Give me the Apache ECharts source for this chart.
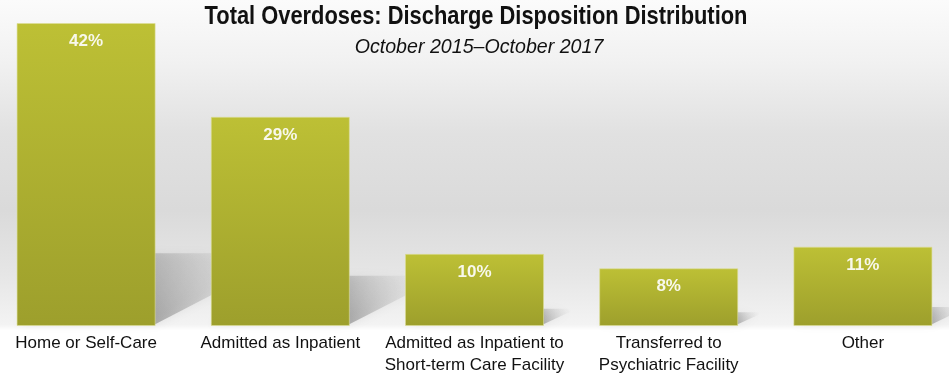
<!DOCTYPE html>
<html>
<head>
<meta charset="utf-8">
<script src="https://cdn.jsdelivr.net/npm/echarts@6/dist/echarts.min.js"></script>
<style>
  html, body { margin: 0; padding: 0; background: #ffffff; }
  #chart {
    width: 949px; height: 382px;
    background: linear-gradient(to bottom, #fbfbfb 0%, #f2f2f2 15%, #e1e1e1 35%, #dadada 55%, #e6e6e6 72%, #f3f3f3 85%, #ffffff 86.5%, #ffffff 100%);
  }
</style>
</head>
<body>
<div id="chart"></div>
<script>
// ---- data ----
const titleText = 'Total Overdoses: Discharge Disposition Distribution';
const subtitleText = 'October 2015\u2013October 2017';
const categories = [
  'Home or Self-Care',
  'Admitted as Inpatient',
  'Admitted as Inpatient to\nShort-term Care Facility',
  'Transferred to\nPsychiatric Facility',
  'Other'
];
const values = [42, 29, 10, 8, 11];
const labelTexts = ['42%', '29%', '10%', '8%', '11%'];

// ---- chart ----
const chart = echarts.init(document.getElementById('chart'), null, { renderer: 'canvas' });
const BAR_FRAC = 0.716;

const option = {
  backgroundColor: 'transparent',
  animation: false,
  graphic: [
    {
      type: 'text', x: 476, y: 5, scaleX: 0.875, silent: true,
      style: {
        text: titleText, x: 0, y: 0, textAlign: 'center', textVerticalAlign: 'top',
        fontFamily: 'Liberation Sans', fontWeight: 'bold', fontSize: 25, fill: '#111111'
      }
    },
    {
      type: 'text', x: 479, y: 37, scaleX: 0.934, silent: true,
      style: {
        text: subtitleText, x: 0, y: 0, textAlign: 'center', textVerticalAlign: 'top',
        fontFamily: 'Liberation Sans', fontStyle: 'italic', fontSize: 21, fill: '#111111'
      }
    }
  ],
  grid: { left: -11, width: 971, top: 23, bottom: 56, containLabel: false, outerBoundsMode: 'none' },
  xAxis: {
    type: 'category',
    data: categories,
    axisLine: { show: false },
    axisTick: { show: false },
    splitLine: { show: false },
    axisLabel: {
      interval: 0, margin: 6, fontSize: 17, lineHeight: 22,
      fontFamily: 'Liberation Sans', color: '#111111'
    }
  },
  yAxis: { type: 'value', min: 0, max: 42, show: false, splitLine: { show: false } },
  series: [
    {
      type: 'custom',
      z: 1,
      silent: true,
      data: values.map((v, i) => [i, v]),
      renderItem: function (params, api) {
        const idx = api.value(0), v = api.value(1);
        const base = api.coord([idx, 0]);
        const top = api.coord([idx, v]);
        const band = api.size([1, 0])[0];
        const half = band * BAR_FRAC / 2;
        const h = base[1] - top[1];
        const d = 0.45 * h, e = 0.24 * h;
        const xl = base[0] - half, xr = base[0] + half, y0 = base[1];
        return {
          type: 'polygon',
          shape: { points: [[xl, y0 - 2], [xr, y0 - 2], [xr + d, y0 - e], [xl + d, y0 - e]] },
          style: {
            fill: new echarts.graphic.LinearGradient(xr, y0, xr + d * 0.8, y0 - e, [
              { offset: 0, color: 'rgba(80,80,80,0.42)' },
              { offset: 1, color: 'rgba(170,170,170,0)' }
            ], true),
            shadowBlur: 10,
            shadowColor: 'rgba(0,0,0,0.18)'
          }
        };
      }
    },
    {
      type: 'bar',
      z: 2,
      data: values,
      barWidth: (BAR_FRAC * 100) + '%',
      itemStyle: {
        color: new echarts.graphic.LinearGradient(0, 0, 0, 1, [
          { offset: 0, color: '#bdc035' },
          { offset: 1, color: '#9d9f2c' }
        ]),
        borderColor: 'rgba(220,222,150,0.6)',
        borderWidth: 1
      },
      label: {
        show: true,
        position: 'insideTop',
        distance: 10,
        formatter: function (p) { return labelTexts[p.dataIndex]; },
        fontFamily: 'Liberation Sans',
        fontWeight: 'bold',
        fontSize: 17,
        color: '#f8f8ec'
      }
    }
  ]
};
chart.setOption(option);
</script>
</body>
</html>
